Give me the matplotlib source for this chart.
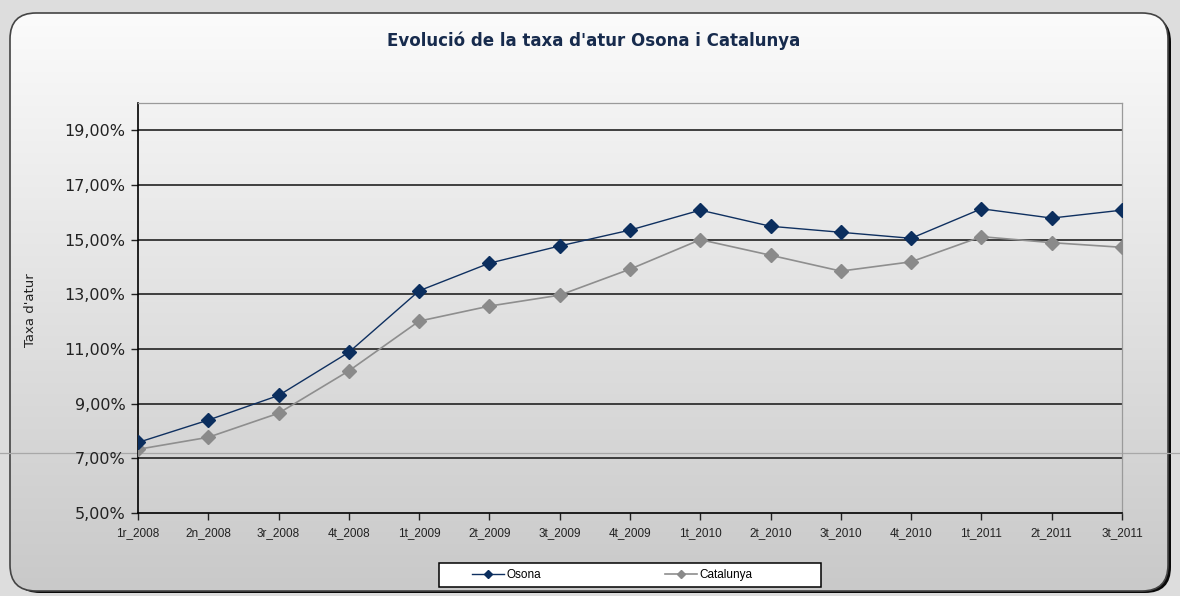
import matplotlib
matplotlib.use("Agg")
import matplotlib.pyplot as plt
import numpy as np
from matplotlib.patches import FancyBboxPatch, Rectangle
from matplotlib.ticker import FuncFormatter

quarters = ["1r_2008", "2n_2008", "3r_2008", "4t_2008", "1t_2009", "2t_2009", "3t_2009",
            "4t_2009", "1t_2010", "2t_2010", "3t_2010", "4t_2010", "1t_2011", "2t_2011",
            "3t_2011"]
osona = [7.58, 8.40, 9.30, 10.88, 13.13, 14.14, 14.77, 15.35, 16.08, 15.49, 15.27, 15.05,
         16.13, 15.79, 16.08]
catalunya = [7.33, 7.77, 8.65, 10.20, 12.02, 12.57, 12.97, 13.92, 15.00, 14.43, 13.85,
             14.19, 15.11, 14.89, 14.72]
y_ticks = [5, 7, 9, 11, 13, 15, 17, 19]

W, H = 1180, 596
narrow = ["Liberation Sans Narrow", "Liberation Sans", "DejaVu Sans"]

fig = plt.figure(figsize=(W / 100, H / 100), dpi=100)
fig.patch.set_facecolor("#dddddd")

# background layer in pixel coordinates
bg = fig.add_axes([0, 0, 1, 1])
bg.set_xlim(0, W)
bg.set_ylim(H, 0)
bg.axis("off")

# shadow on right / bottom
bg.add_patch(FancyBboxPatch((14, 16), 1157, 577, boxstyle="round,pad=0,rounding_size=26",
                            facecolor="#0a0a0a", edgecolor="none", zorder=0))
box = FancyBboxPatch((10, 13), 1158, 578, boxstyle="round,pad=0,rounding_size=26",
                     transform=bg.transData, facecolor="none", edgecolor="none")
bg.add_patch(box)
cmap = matplotlib.colors.LinearSegmentedColormap.from_list("g", ["#fbfbfb", "#c9c9c9"])
img = bg.imshow(np.linspace(0, 1, 256).reshape(-1, 1), cmap=cmap,
                extent=[10, 1168, 591, 13], aspect="auto", zorder=1)
img.set_clip_path(box)
bg.add_patch(FancyBboxPatch((10, 13), 1158, 578, boxstyle="round,pad=0,rounding_size=26",
                            facecolor="none", edgecolor="#444444", lw=1.2, zorder=3))
bg.axhline(453, color="#a8a8a8", lw=0.9, zorder=4)

bg.text(594, 41, "Evolució de la taxa d'atur Osona i Catalunya", ha="center", va="center",
        fontsize=12, fontweight="bold", color="#172b4d")

# legend box
bg.add_patch(Rectangle((439, 563), 382, 24, facecolor="white", edgecolor="black",
                       lw=1.1, zorder=5))

ax = fig.add_axes([138 / W, 1 - 513 / H, (1122 - 138) / W, (513 - 103) / H])
ax.set_facecolor("none")
x = np.arange(len(quarters))
l1, = ax.plot(x, osona, color="#0f3060", lw=1.0, marker="D", markersize=7.5,
              markerfacecolor="#0b2e5e", markeredgecolor="#0b2e5e", zorder=4)
l2, = ax.plot(x, catalunya, color="#8e8e8e", lw=1.2, marker="D", markersize=7.5,
              markerfacecolor="#8a8a8a", markeredgecolor="#8a8a8a", zorder=3)

ax.set_xlim(0, len(quarters) - 1)
ax.set_ylim(5, 20)
ax.set_yticks(y_ticks)
ax.yaxis.set_major_formatter(FuncFormatter(lambda v, p: f"{v:.2f}".replace(".", ",") + "%"))
ax.set_xticks(x)
ax.set_xticklabels(quarters, family=narrow, fontsize=8.5, color="#222222")
ax.tick_params(axis="y", labelsize=11.5, colors="#222222", length=5, width=1, pad=4)
ax.tick_params(axis="x", length=5, width=1, pad=5, colors="#222222")
for v in y_ticks[1:]:
    ax.axhline(v, color="#222222", lw=1.2, zorder=2)

ax.spines["left"].set_color("black")
ax.spines["left"].set_linewidth(1.2)
ax.spines["bottom"].set_color("black")
ax.spines["bottom"].set_linewidth(1.2)
ax.spines["top"].set_color("#9a9a9a")
ax.spines["top"].set_linewidth(0.9)
ax.spines["right"].set_color("#9a9a9a")
ax.spines["right"].set_linewidth(0.9)

fig.text(30 / W, 1 - 310 / H, "Taxa d'atur", rotation=90, ha="center", va="center",
         fontsize=9.5, color="#222222")

leg = fig.legend([l1, l2], ["Osona", "Catalunya"], ncol=2, frameon=False,
                 loc="center", bbox_to_anchor=(612 / W, 1 - 575 / H),
                 prop={"family": narrow, "size": 8.5}, handlelength=2.7,
                 handletextpad=0.2, columnspacing=10.5, markerscale=0.55)
leg.set_zorder(10)

fig.savefig("out.png", dpi=100, facecolor=fig.get_facecolor())
